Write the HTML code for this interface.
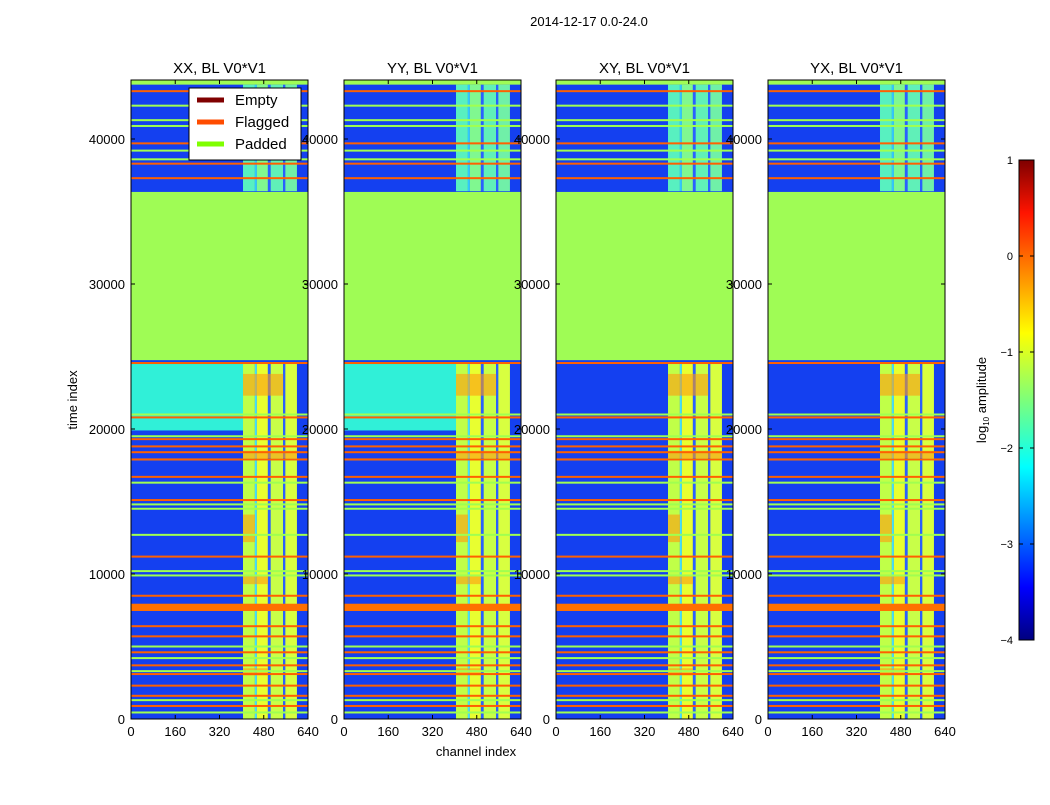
<!DOCTYPE html>
<html><head><meta charset="utf-8"><style>
body{margin:0;background:#fff;}
svg text{font-family:"Liberation Sans",sans-serif;}
</style></head><body>
<svg id="fig" width="1050" height="800" xmlns="http://www.w3.org/2000/svg">
<defs>
<linearGradient id="jet" x1="0" y1="1" x2="0" y2="0">
<stop offset="0" stop-color="#00007f"/><stop offset="0.11" stop-color="#0000ff"/>
<stop offset="0.36" stop-color="#00ffff"/><stop offset="0.5" stop-color="#7dff7a"/>
<stop offset="0.64" stop-color="#ffff00"/><stop offset="0.89" stop-color="#ff1400"/>
<stop offset="1" stop-color="#7f0000"/>
</linearGradient>
</defs>
<text x="589" y="26" font-size="13" text-anchor="middle">2014-12-17 0.0-24.0</text>
<g id="panels"></g>
<g>
<rect x="1019" y="160" width="15" height="480" fill="url(#jet)" stroke="#000" stroke-width="1"/>
<g id="cbticks"></g>
<text transform="translate(986,400) rotate(-90)" font-size="13" text-anchor="middle">log<tspan font-size="8" dy="3">10</tspan><tspan dy="-3"> amplitude</tspan></text>
</g>
<text x="476" y="756" font-size="13" text-anchor="middle">channel index</text>
<text transform="translate(77,400) rotate(-90)" font-size="13" text-anchor="middle">time index</text>
</svg>
<script>
const panelTitles=["XX, BL V0*V1","YY, BL V0*V1","XY, BL V0*V1","YX, BL V0*V1"];
const panelLefts=[131,344,556,768];
const xTicks=[0,160,320,480,640];
const yTicks=[0,10000,20000,30000,40000];
const paddedBands=[[24750,36350],[43750,44070]];
const paddedLines=[450,1300,3300,4200,5000,9900,10200,12700,14500,14800,16300,17900,19500,21000,38600,39200,40900,41300,42300];
const flaggedBands=[[7450,7950]];
const flaggedLines=[900,1600,2300,3100,3700,4600,5700,6400,8500,11200,15100,16700,17900,18400,18800,19300,20800,24550,37300,38300,39700,43300];
const cyanBlock=[19900,24600];
const upperBlueRange=[36400,43750];
const chanBands=[[405,448,"#c0ff48"],[448,455,"#40e0ff"],[455,495,"#e8ff30"],[495,505,"#2a60ff"],[505,550,"#c8ff48"],[550,558,"#2a60ff"],[558,600,"#d8ff40"]];
const upperBandColors=["#58f0c0","#30c8ff","#80f890","#2a60ff","#60f0b8","#2a60ff","#70f0a8"];
const hotSpots=[[3000,3500,405,495],[9300,9900,405,495],[12200,14100,405,448],[22300,23800,405,550],[18000,18500,405,600]];
const cbTicks=[-4,-3,-2,-1,0,1];
const NS="http://www.w3.org/2000/svg";
const T0=0,T1=44070;
function yS(t){return 719-(t-T0)/(T1-T0)*639;}
function mk(tag,attrs,parent){const e=document.createElementNS(NS,tag);for(const k in attrs)e.setAttribute(k,attrs[k]);parent.appendChild(e);return e;}
const root=document.getElementById("panels");
panelLefts.forEach((L,pi)=>{
  const W=177;
  const xS=c=>L+c/640*W;
  const g=mk("g",{},root);
  
  
  mk("rect",{x:L,y:80,width:W,height:639,fill:"#1440f0"},g);
  if(pi<2){
    const cb=mk("rect",{x:xS(0),y:yS(cyanBlock[1]),width:xS(405)-xS(0),height:yS(cyanBlock[0])-yS(cyanBlock[1]),fill:"#30f0d8"},g);
    
    
  }
  chanBands.forEach((b,bi)=>{
    const r=mk("rect",{x:xS(b[0]),y:yS(24600),width:xS(b[1])-xS(b[0]),height:yS(0)-yS(24600),fill:b[2]},g);
    
    
    const r2=mk("rect",{x:xS(b[0]),y:yS(upperBlueRange[1]),width:xS(b[1])-xS(b[0]),height:yS(upperBlueRange[0])-yS(upperBlueRange[1]),fill:upperBandColors[bi]},g);
    
    
  });
  hotSpots.forEach(h=>{
    const r=mk("rect",{x:xS(h[2]),y:yS(h[1]),width:xS(h[3])-xS(h[2]),height:yS(h[0])-yS(h[1]),fill:"#ff9a10",opacity:0.6},g);
    
    
  });
  paddedLines.forEach(t=>{
    const r=mk("rect",{x:L,y:yS(t)-1,width:W,height:2,fill:"#a0ff50"},g);
    
    
  });
  flaggedLines.forEach(t=>{
    const r=mk("rect",{x:L,y:yS(t)-1,width:W,height:2,fill:"#ff6000"},g);
    
    
  });
  flaggedBands.forEach(b=>{
    const r=mk("rect",{x:L,y:yS(b[1]),width:W,height:yS(b[0])-yS(b[1]),fill:"#ff7000"},g);
    
    
  });
  paddedBands.forEach(b=>{
    const r=mk("rect",{x:L,y:yS(b[1]),width:W,height:yS(b[0])-yS(b[1]),fill:"#9ffc55"},g);
    
    
  });
  mk("rect",{x:L,y:80,width:W,height:639,fill:"none",stroke:"#000","stroke-width":1},g);
  const tt=mk("text",{x:L+W/2,y:73,"font-size":15,"text-anchor":"middle"},g);
  tt.textContent=panelTitles[pi];
  
  
  xTicks.forEach(v=>{
    mk("line",{x1:xS(v),x2:xS(v),y1:719,y2:715,stroke:"#000"},g);
    mk("line",{x1:xS(v),x2:xS(v),y1:80,y2:84,stroke:"#000"},g);
    const t=mk("text",{x:xS(v),y:736,"font-size":13,"text-anchor":"middle"},g);
    t.textContent=v;
    
    
  });
  yTicks.forEach(v=>{
    mk("line",{x1:L,x2:L+4,y1:yS(v),y2:yS(v),stroke:"#000"},g);
    mk("line",{x1:L+W,x2:L+W-4,y1:yS(v),y2:yS(v),stroke:"#000"},g);
    const t=mk("text",{x:L-6,y:yS(v)+5,"font-size":13,"text-anchor":"end"},g);
    t.textContent=v;
    
    
  });
});
const lg=mk("g",{},root);


mk("rect",{x:189,y:88,width:112,height:72,fill:"#fff",stroke:"#000"},lg);
[["Empty","#800000"],["Flagged","#ff4c00"],["Padded","#7fff00"]].forEach((e,i)=>{
  const y=100+i*22;
  mk("line",{x1:197,x2:224,y1:y,y2:y,stroke:e[1],"stroke-width":5},lg);
  const t=mk("text",{x:235,y:y+5,"font-size":15},lg);
  t.textContent=e[0];
  
  
});
const cbg=document.getElementById("cbticks");
cbTicks.forEach(v=>{
  const y=640-(v+4)/5*480;
  mk("line",{x1:1019,x2:1023,y1:y,y2:y,stroke:"#000"},cbg);
  mk("line",{x1:1034,x2:1030,y1:y,y2:y,stroke:"#000"},cbg);
  const t=mk("text",{x:1013,y:y+4,"font-size":11,"text-anchor":"end"},cbg);
  t.textContent=v<0?"\u2212"+(-v):v;
  
  
});
</script>
</body></html>
